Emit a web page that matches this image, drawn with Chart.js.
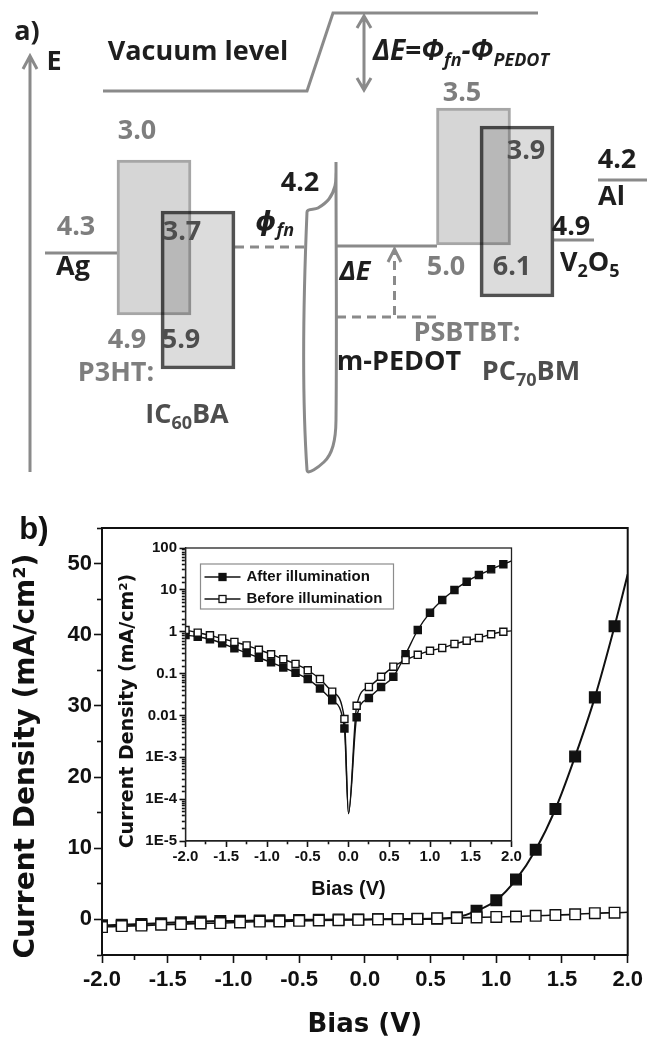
<!DOCTYPE html>
<html>
<head>
<meta charset="utf-8">
<script src="https://cdn.jsdelivr.net/npm/chart.js@4.4.1/dist/chart.umd.min.js"></script>
<style>
  html, body { margin: 0; padding: 0; background: #fff; }
  #page { position: relative; width: 647px; height: 1042px; overflow: hidden; background: #fff; }
  canvas { position: absolute; }
  #diagram { left: 0; top: 0; }
  #jv { left: 0; top: 480px; }
  #inset { left: 105px; top: 530px; }
</style>
</head>
<body>
<div id="page">
  <canvas id="diagram" width="647" height="480"></canvas>
  <canvas id="jv" width="647" height="562"></canvas>
  <canvas id="inset" width="420" height="375"></canvas>
</div>
<script>
Chart.defaults.animation = false;
Chart.defaults.font.family = "'Liberation Sans', Arial, sans-serif";
Chart.defaults.color = '#111';
Chart.defaults.plugins.legend.display = false;
Chart.defaults.plugins.tooltip.enabled = false;

// ---------- b) J-V curves ----------
const biasV = [-2.0, -1.85, -1.7, -1.55, -1.4, -1.25, -1.1, -0.95, -0.8, -0.65, -0.5, -0.35, -0.2, -0.05,
               0.1, 0.25, 0.4, 0.55, 0.7, 0.85, 1.0, 1.15, 1.3, 1.45, 1.6, 1.75, 1.9];
// main panel, mA/cm2 (linear)
const jAfter  = [-0.83, -0.76, -0.66, -0.53, -0.40, -0.31, -0.24, -0.19, -0.14, -0.10, -0.07, -0.04, -0.02, -0.005,
                 0.009, 0.026, 0.048, 0.084, 0.29, 1.2, 2.7, 5.6, 9.8, 15.5, 22.9, 31.2, 41.2];
const jBefore = [-1.08, -0.94, -0.87, -0.75, -0.66, -0.56, -0.52, -0.42, -0.30, -0.28, -0.20, -0.15, -0.10, -0.05,
                 0.02, 0.05, 0.09, 0.15, 0.21, 0.28, 0.35, 0.41, 0.51, 0.61, 0.71, 0.87, 0.94];
// inset, |J| in mA/cm2 (log)
const absAfter  = [0.83, 0.76, 0.66, 0.53, 0.40, 0.31, 0.24, 0.185, 0.14, 0.104, 0.074, 0.044, 0.023, 0.0049,
                   0.009, 0.026, 0.048, 0.084, 0.29, 1.1, 2.85, 5.7, 9.9, 15.7, 22.7, 31, 41];
const absBefore = [1.1, 0.95, 0.82, 0.69, 0.57, 0.47, 0.37, 0.29, 0.22, 0.17, 0.12, 0.074, 0.037, 0.0082,
                   0.017, 0.048, 0.084, 0.146, 0.21, 0.28, 0.35, 0.41, 0.51, 0.61, 0.71, 0.87, 1.0];
// curve points drawn without a marker (zero crossing, right edge)
const dipBias = 0.0, dipJ = 4.5e-5;
const endBias = 2.0;
const jAfterEnd = 48.5, jBeforeEnd = 1.0;
const absAfterEnd = 49, absBeforeEnd = 1.05;

const biasLabels = [-2, -1.5, -1, -0.5, 0, 0.5, 1, 1.5, 2];
const jLabels = [0, 10, 20, 30, 40, 50];
const decadeLabels = {'-5': '1E-5', '-4': '1E-4', '-3': '1E-3', '-2': '0.01', '-1': '0.1', '0': '1', '1': '10', '2': '100'};

function curve(xs, ys, extra) {
  const pts = xs.map((x, i) => ({x: x, y: ys[i], m: true}));
  extra.forEach(p => pts.push({x: p[0], y: p[1], m: false}));
  return pts.sort((a, b) => a.x - b.x);
}

const isLabelled = (v, list) => list.some(t => Math.abs(t - v) < 1e-6);
const isDecade = v => Math.abs(Math.log10(v) - Math.round(Math.log10(v))) < 1e-6;

const framePlugin = {
  id: 'frame',
  afterDraw(chart, args, opts) {
    const a = chart.chartArea, ctx = chart.ctx;
    ctx.save();
    ctx.strokeStyle = opts.color;
    ctx.lineWidth = opts.width;
    ctx.strokeRect(a.left, a.top, a.right - a.left, a.bottom - a.top);
    if (opts.label) {
      ctx.fillStyle = '#111';
      ctx.font = opts.label.font;
      ctx.textAlign = 'center';
      ctx.textBaseline = 'middle';
      ctx.fillText(opts.label.text, opts.label.x, opts.label.y);
    }
    ctx.restore();
  }
};

function lineSet(label, data, fill, order, width, radius) {
  return {
    label: label, data: data, order: order,
    borderColor: '#111', borderWidth: width,
    cubicInterpolationMode: 'monotone',
    pointStyle: 'rect',
    pointRadius: c => (c.raw && c.raw.m ? radius : 0),
    pointBackgroundColor: fill, pointBorderColor: '#111', pointBorderWidth: 1.4
  };
}

// minor ticks are shortened with a dash; on left axes the tick is stroked
// from the outer end, so the dash is shifted to sit against the axis line
function tickGrid(len, minorLen, flip, axisW) {
  const gap = 30;
  return {
    drawOnChartArea: false, tickLength: len, tickColor: '#111', tickWidth: 1.6,
    tickBorderDash: c => (c.tick && c.tick.major ? [] : [minorLen, gap]),
    tickBorderDashOffset: flip ? (minorLen + gap) - (len - axisW / 2 - minorLen) : 0
  };
}

const mainX = {
  type: 'linear', min: -2, max: 2, offset: false,
  afterFit: s => { s.height = 87; },
  border: {color: '#111', width: 2},
  grid: tickGrid(8, 4, false, 2),
  ticks: {
    stepSize: 0.25, autoSkip: false, maxRotation: 0, padding: 4,
    font: {size: 22, weight: 'bold'}, color: '#111',
    callback: v => (isLabelled(v, biasLabels) ? v.toFixed(1) : '')
  },
  afterBuildTicks: s => s.ticks.forEach(t => { t.major = isLabelled(t.value, biasLabels); }),
  title: {display: true, text: 'Bias (V)', color: '#111',
          font: {family: "'DejaVu Sans'", size: 26, weight: 'bold'}, padding: {top: 0, bottom: 1}}
};

const mainY = {
  type: 'linear', min: -5, max: 55, offset: false,
  afterFit: s => { s.width = 102; },
  border: {color: '#111', width: 2},
  grid: tickGrid(8, 4, true, 2),
  ticks: {
    stepSize: 5, autoSkip: false, padding: 2,
    font: {size: 22, weight: 'bold'}, color: '#111',
    callback: v => (isLabelled(v, jLabels) ? String(v) : '')
  },
  afterBuildTicks: s => s.ticks.forEach(t => { t.major = isLabelled(t.value, jLabels); }),
  title: {display: true, text: 'Current Density (mA/cm\u00b2)   ', color: '#111',
          font: {family: "'DejaVu Sans'", size: 28, weight: 'bold'}, padding: {top: 10}}
};

new Chart(document.getElementById('jv'), {
  type: 'line',
  data: {
    datasets: [
      lineSet('Before illumination', curve(biasV, jBefore, [[endBias, jBeforeEnd]]), '#fff', 0, 1.6, 7.5),
      lineSet('After illumination', curve(biasV, jAfter, [[endBias, jAfterEnd]]), '#111', 1, 2, 7.5)
    ]
  },
  options: {
    responsive: false,
    layout: {padding: {top: 48, right: 18, left: 0, bottom: 0}},
    scales: {x: mainX, y: mainY},
    plugins: {frame: {color: '#111', width: 2,
      label: {text: 'b)', x: 34, y: 50, font: "bold 31px 'Liberation Sans', Arial, sans-serif"}}}
  },
  plugins: [framePlugin]
});

// legend of the inset, drawn inside its plot area
const insetLegend = {
  id: 'insetLegend',
  afterDraw(chart) {
    const ctx = chart.ctx, a = chart.chartArea;
    const bx = a.left + 15, by = a.top + 16;
    ctx.save();
    ctx.strokeStyle = '#8c8c8c';
    ctx.lineWidth = 1.2;
    ctx.strokeRect(bx, by, 193, 45);
    [1, 0].forEach((di, row) => {
      const ds = chart.data.datasets[di];
      const y = by + 13 + row * 22;
      ctx.strokeStyle = ds.borderColor;
      ctx.lineWidth = 1.5;
      ctx.beginPath();
      ctx.moveTo(bx + 4, y);
      ctx.lineTo(bx + 40, y);
      ctx.stroke();
      ctx.fillStyle = ds.pointBackgroundColor;
      ctx.fillRect(bx + 18.5, y - 3.5, 7, 7);
      ctx.lineWidth = 1.3;
      ctx.strokeRect(bx + 18.5, y - 3.5, 7, 7);
      ctx.fillStyle = '#111';
      ctx.font = "bold 15px 'Liberation Sans', Arial, sans-serif";
      ctx.textBaseline = 'middle';
      ctx.textAlign = 'left';
      ctx.fillText(ds.label, bx + 46, y);
    });
    ctx.restore();
  }
};

new Chart(document.getElementById('inset'), {
  type: 'line',
  data: {
    datasets: [
      lineSet('Before illumination', curve(biasV, absBefore, [[dipBias, dipJ], [endBias, absBeforeEnd]]), '#fff', 0, 1.4, 5),
      lineSet('After illumination', curve(biasV, absAfter, [[dipBias, dipJ], [endBias, absAfterEnd]]), '#111', 1, 1.4, 5)
    ]
  },
  options: {
    responsive: false,
    layout: {padding: {top: 18, right: 13.5, left: 0, bottom: 0}},
    scales: {
      x: {
        type: 'linear', min: -2, max: 2, offset: false,
        afterFit: s => { s.height = 64; },
        border: {color: '#222', width: 1.3},
        grid: tickGrid(6, 3, false, 1.3),
        ticks: {stepSize: 0.25, autoSkip: false, maxRotation: 0, padding: 1,
                font: {size: 15, weight: 'bold'}, color: '#111',
                callback: v => (isLabelled(v, biasLabels) ? v.toFixed(1) : '')},
        afterBuildTicks: s => s.ticks.forEach(t => { t.major = isLabelled(t.value, biasLabels); }),
        title: {display: true, text: 'Bias (V)', color: '#111',
                font: {size: 20, weight: 'bold'}, padding: {top: 0, bottom: 3.5}}
      },
      y: {
        type: 'logarithmic', min: 1e-5, max: 100,
        afterFit: s => { s.width = 80.5; },
        border: {color: '#222', width: 1.3},
        grid: tickGrid(6, 3, true, 1.3),
        ticks: {autoSkip: false, padding: 2.5, font: {size: 15, weight: 'bold'}, color: '#111',
                callback: v => (isDecade(v) ? decadeLabels[String(Math.round(Math.log10(v)))] : '')},
        afterBuildTicks: s => s.ticks.forEach(t => { t.major = isDecade(t.value); }),
        title: {display: true, text: 'Current Density (mA/cm\u00b2)     ', color: '#111',
                font: {family: "'DejaVu Sans'", size: 19, weight: 'bold'}, padding: {top: 11.5}}
      }
    },
    plugins: {frame: {color: '#222', width: 1.3}}
  },
  plugins: [framePlugin, insetLegend]
});

// ---------- a) energy level diagram ----------
// drawn on a 647 x 480 schematic grid (the diagram is not to energy scale)
const GRAY = '#7e7e7e', DARK = '#4e4e4e', BLACK = '#1e1e1e';

// energy levels in eV, as printed
const levelText  = ['4.3', '3.0', '4.9', '3.7', '5.9', '4.2', '3.5', '5.0', '3.9', '6.1', '4.9', '4.2'];
const levelTone  = [GRAY, GRAY, GRAY, DARK, DARK, BLACK, GRAY, GRAY, DARK, DARK, BLACK, BLACK];
const levelPos   = [[76, 227], [137, 131], [127, 340], [182, 232], [181, 340], [300, 183],
                    [462, 93], [446, 267], [526, 151], [512, 267], [571, 227], [617, 160]];

// layer names; runs are [text, isSubscript]
const layerRuns = [
  [['Ag', 0]], [['P3HT:', 0]], [['IC', 0], ['60', 1], ['BA', 0]], [['m-PEDOT', 0]],
  [['PSBTBT:', 0]], [['PC', 0], ['70', 1], ['BM', 0]], [['V', 0], ['2', 1], ['O', 0], ['5', 1]], [['Al', 0]]
];
const layerTone = [BLACK, GRAY, DARK, BLACK, GRAY, DARK, BLACK, BLACK];
const layerPos  = [[73, 267, 'center'], [116, 373, 'center'], [187, 415, 'center'], [399, 362, 'center'],
                   [467, 333, 'center'], [531, 372, 'center'], [560, 263, 'left'], [598, 197, 'left']];

// other annotations
const noteRuns = [
  [['a)', 0]], [['E', 0]], [['Vacuum level', 0]],
  [['\u0394E=\u03a6', 0], ['fn', 1], ['-\u03a6', 0], ['PEDOT', 1]],
  [['\u03d5', 0], ['fn', 1]], [['\u0394E', 0]]
];
const notePos = [[27, 32, 'center', 0], [54, 62, 'center', 0], [198, 52, 'center', 0],
                 [373, 52, 'left', 1], [255, 222, 'left', 1], [355, 272, 'center', 1]];

// boxes [left, right, top, bottom]: donors (light) and acceptors (dark outline)
const donorBoxes    = [[117, 191, 160, 315], [437, 510, 108, 245]];
const acceptorBoxes = [[161, 235, 211, 369], [480, 554, 126, 297]];

const solidPaths = [
  [[30, 472], [30, 57]], [[23, 69], [30, 56], [37, 69]],
  [[103, 91], [307, 91], [333, 13], [538, 13]],
  [[364, 18], [364, 88]], [[357, 28], [364, 16], [371, 28]], [[357, 78], [364, 90], [371, 78]],
  [[45, 253], [117, 253]], [[336, 246], [437, 246]], [[554, 240], [594, 240]], [[598, 180], [647, 180]],
  [[388, 262], [394.5, 249], [401, 262]]
];
const dashedPaths = [[[235, 247], [306, 247]], [[337, 317], [437, 317]], [[394.5, 315], [394.5, 252]]];
const electrodePath = [[336, 162], [336, 420], [333, 446], [324, 462], [307, 470], [307, 212],
                       [318, 208], [329, 199], [335, 186], [336, 172]];

function joinPaths(paths) {
  const out = [];
  paths.forEach((p, i) => {
    if (i) out.push({x: p[0][0], y: null});
    p.forEach(q => out.push({x: q[0], y: q[1]}));
  });
  return out;
}
const boxData = boxes => boxes.map(b => ({x: (b[0] + b[1]) / 2, y: [b[2], b[3]]}));

function drawRuns(ctx, runs, x, y, size, color, italic, align) {
  const fam = "'Open Sans', 'DejaVu Sans', sans-serif";
  const sub = Math.round(size * 0.66);
  const font = r => (italic ? 'italic ' : '') + 'bold ' + (r[1] ? sub : size) + 'px ' + fam;
  let w = 0;
  runs.forEach(r => { ctx.font = font(r); w += ctx.measureText(r[0]).width; });
  let cx = align === 'left' ? x : x - w / 2;
  ctx.fillStyle = color;
  ctx.textAlign = 'left';
  ctx.textBaseline = 'middle';
  runs.forEach(r => {
    ctx.font = font(r);
    ctx.fillText(r[0], cx, y + (r[1] ? size * 0.32 : 0));
    cx += ctx.measureText(r[0]).width;
  });
}

const diagramText = {
  id: 'diagramText',
  beforeDraw(chart) {
    const ctx = chart.ctx;
    ctx.save();
    ctx.fillStyle = '#fff';
    ctx.fillRect(0, 0, chart.width, chart.height);
    ctx.restore();
  },
  beforeDatasetDraw(chart, args) {
    if (chart.data.datasets[args.index].blend) {
      chart.ctx.save();
      chart.ctx.globalCompositeOperation = 'multiply';
    }
  },
  afterDatasetDraw(chart, args) {
    if (chart.data.datasets[args.index].blend) chart.ctx.restore();
  },
  afterDatasetsDraw(chart) {
    const ctx = chart.ctx, sx = chart.scales.x, sy = chart.scales.y;
    const px = p => [sx.getPixelForValue(p[0]), sy.getPixelForValue(p[1])];
    ctx.save();
    levelText.forEach((t, i) => {
      const p = px(levelPos[i]);
      drawRuns(ctx, [[t, 0]], p[0], p[1], 27, levelTone[i], false, 'center');
    });
    layerRuns.forEach((r, i) => {
      const p = px(layerPos[i]);
      drawRuns(ctx, r, p[0], p[1], 27, layerTone[i], false, layerPos[i][2]);
    });
    noteRuns.forEach((r, i) => {
      const p = px(notePos[i]);
      drawRuns(ctx, r, p[0], p[1], i === 3 ? 28 : 27, BLACK, !!notePos[i][3], notePos[i][2]);
    });
    ctx.restore();
  }
};

const lineGray = '#8a8a8a';
new Chart(document.getElementById('diagram'), {
  type: 'line',
  data: {
    datasets: [
      {type: 'bar', data: boxData(acceptorBoxes), order: 0, blend: true, grouped: false, barThickness: 74,
       backgroundColor: '#dcdcdc', borderColor: '#525252', borderWidth: 3, borderSkipped: false},
      {type: 'bar', data: boxData(donorBoxes), order: 1, grouped: false, barThickness: 74,
       backgroundColor: '#d6d6d6', borderColor: '#a6a6a6', borderWidth: 3, borderSkipped: false},
      {data: joinPaths(solidPaths), order: 2, borderColor: lineGray, borderWidth: 3, pointRadius: 0, spanGaps: false},
      {data: joinPaths(dashedPaths), order: 2, borderColor: lineGray, borderWidth: 3, borderDash: [9, 6],
       pointRadius: 0, spanGaps: false},
      {data: joinPaths([electrodePath]), order: 2, borderColor: lineGray, borderWidth: 3, pointRadius: 0, tension: 0.35}
    ]
  },
  options: {
    responsive: false,
    layout: {padding: 0},
    scales: {
      x: {type: 'linear', min: 0, max: 647, display: false, offset: false},
      y: {type: 'linear', min: 0, max: 480, reverse: true, display: false, offset: false}
    }
  },
  plugins: [diagramText]
});
</script>
</body>
</html>
